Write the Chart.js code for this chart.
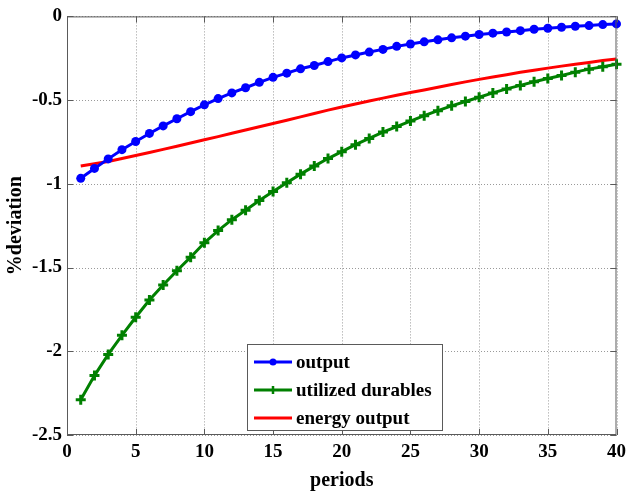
<!DOCTYPE html>
<html>
<head>
<meta charset="utf-8">
<script src="https://cdn.jsdelivr.net/npm/chart.js@4"></script>
<style>
  html, body { margin: 0; padding: 0; background: #fff; }
  #wrap { width: 632px; height: 495px; position: relative; }
</style>
</head>
<body>
<div id="wrap"><canvas id="c" width="632" height="495"></canvas></div>
<script>
// Impulse responses, % deviation from steady state, periods 1..40
const periods = Array.from({ length: 40 }, (_, i) => i + 1);

const outputDev = [
  -0.967, -0.908, -0.851, -0.796, -0.747, -0.699, -0.654, -0.611, -0.569, -0.528,
  -0.491, -0.457, -0.426, -0.394, -0.364, -0.339, -0.313, -0.293, -0.270, -0.248,
  -0.230, -0.213, -0.197, -0.179, -0.165, -0.152, -0.140, -0.128, -0.118, -0.108,
  -0.100, -0.093, -0.085, -0.077, -0.071, -0.065, -0.059, -0.055, -0.049, -0.045
];

const durablesDev = [
  -2.289, -2.145, -2.019, -1.905, -1.797, -1.694, -1.604, -1.519, -1.438, -1.352,
  -1.279, -1.214, -1.158, -1.099, -1.046, -0.993, -0.942, -0.894, -0.849, -0.808,
  -0.766, -0.729, -0.691, -0.658, -0.625, -0.593, -0.563, -0.534, -0.508, -0.483,
  -0.457, -0.433, -0.412, -0.390, -0.371, -0.353, -0.333, -0.315, -0.301, -0.286
];

const energyDev = [
  -0.894, -0.880, -0.866, -0.849, -0.831, -0.813, -0.794, -0.775, -0.756, -0.737,
  -0.718, -0.698, -0.678, -0.659, -0.640, -0.620, -0.600, -0.580, -0.560, -0.541,
  -0.523, -0.505, -0.488, -0.471, -0.455, -0.439, -0.423, -0.407, -0.391, -0.376,
  -0.362, -0.348, -0.334, -0.321, -0.309, -0.297, -0.286, -0.275, -0.264, -0.254
];

const seriesNames = ['output', 'utilized durables', 'energy output'];
const xTickValues = [0, 5, 10, 15, 20, 25, 30, 35, 40];
const yTickValues = [0, -0.5, -1, -1.5, -2, -2.5];
const yTickLabels = ['0', '-0.5', '-1', '-1.5', '-2', '-2.5'];

const FONT = '"Liberation Serif", "Times New Roman", serif';

function pts(ys) { return periods.map((p, i) => ({ x: p, y: ys[i] })); }

// Dotted grid behind the data, at every tick position
const dottedGrid = {
  id: 'dottedGrid',
  beforeDatasetsDraw(chart) {
    const { ctx, chartArea: a, scales } = chart;
    ctx.save();
    ctx.strokeStyle = '#9a9a9a';
    ctx.lineWidth = 1;
    ctx.setLineDash([1, 2]);
    ctx.beginPath();
    xTickValues.forEach(v => {
      const x = Math.round(scales.x.getPixelForValue(v)) + 0.5;
      ctx.moveTo(x, a.top); ctx.lineTo(x, a.bottom);
    });
    yTickValues.forEach(v => {
      const y = Math.round(scales.y.getPixelForValue(v)) + 0.5;
      ctx.moveTo(a.left, y); ctx.lineTo(a.right, y);
    });
    ctx.stroke();
    ctx.restore();
  }
};

// Box around the axes with short inward tick marks on every side
const axesBox = {
  id: 'axesBox',
  afterDatasetsDraw(chart) {
    const { ctx, chartArea: a, scales } = chart;
    ctx.save();
    ctx.strokeStyle = '#5a5a5a';
    ctx.lineWidth = 1;
    ctx.strokeRect(a.left + 0.5, a.top + 0.5, a.right - a.left - 1, a.bottom - a.top - 1);
    const len = 6;
    ctx.beginPath();
    xTickValues.forEach(v => {
      const x = Math.round(scales.x.getPixelForValue(v)) + 0.5;
      ctx.moveTo(x, a.bottom); ctx.lineTo(x, a.bottom - len);
      ctx.moveTo(x, a.top); ctx.lineTo(x, a.top + len);
    });
    yTickValues.forEach(v => {
      const y = Math.round(scales.y.getPixelForValue(v)) + 0.5;
      ctx.moveTo(a.left, y); ctx.lineTo(a.left + len, y);
      ctx.moveTo(a.right, y); ctx.lineTo(a.right - len, y);
    });
    ctx.stroke();
    ctx.restore();
  }
};

// Legend box drawn inside the plot area
const boxLegend = {
  id: 'boxLegend',
  afterDraw(chart) {
    const { ctx } = chart;
    const left = 247, top = 344, w = 195, h = 86;
    ctx.save();
    ctx.fillStyle = '#fff';
    ctx.fillRect(left, top, w, h);
    ctx.strokeStyle = '#5a5a5a';
    ctx.lineWidth = 1;
    ctx.strokeRect(left + 0.5, top + 0.5, w, h);
    ctx.font = 'bold 19px ' + FONT;
    ctx.textBaseline = 'middle';
    chart.data.datasets.forEach((ds, i) => {
      const y = top + 18 + i * 28;
      ctx.strokeStyle = ds.borderColor;
      ctx.lineWidth = 3;
      ctx.beginPath();
      ctx.moveTo(254, y); ctx.lineTo(292, y);
      ctx.stroke();
      if (ds.pointStyle === 'circle' && ds.pointRadius > 0) {
        ctx.fillStyle = ds.borderColor;
        ctx.beginPath(); ctx.arc(273, y, 3.5, 0, Math.PI * 2); ctx.fill();
      } else if (ds.pointStyle === 'cross' && ds.pointRadius > 0) {
        ctx.lineWidth = 2.5;
        ctx.beginPath();
        ctx.moveTo(273, y - 4); ctx.lineTo(273, y + 4);
        ctx.stroke();
      }
      ctx.fillStyle = '#000';
      ctx.fillText(ds.label, 296, y + 1);
    });
    ctx.restore();
  }
};

new Chart(document.getElementById('c'), {
  type: 'line',
  data: {
    datasets: [
      {
        label: seriesNames[0], data: pts(outputDev),
        borderColor: '#0000ff', backgroundColor: '#0000ff',
        borderWidth: 3, pointStyle: 'circle', pointRadius: 4.5,
        pointBorderWidth: 0, clip: false
      },
      {
        label: seriesNames[1], data: pts(durablesDev),
        borderColor: '#008000', backgroundColor: '#008000',
        borderWidth: 3, pointStyle: 'cross', pointRadius: 5,
        pointBorderWidth: 3, clip: false
      },
      {
        label: seriesNames[2], data: pts(energyDev),
        borderColor: '#ff0000', backgroundColor: '#ff0000',
        borderWidth: 3, pointRadius: 0, pointStyle: 'line', clip: false
      }
    ]
  },
  options: {
    responsive: false,
    animation: false,
    events: [],
    layout: { padding: { top: 12, right: 10, left: 0, bottom: 0 } },
    plugins: { legend: { display: false }, tooltip: { enabled: false } },
    scales: {
      x: {
        type: 'linear', min: 0, max: 40,
        afterBuildTicks(s) { s.ticks = xTickValues.map(v => ({ value: v })); },
        afterFit(s) { s.height = 60; },
        grid: { display: false, drawTicks: false },
        border: { display: false },
        ticks: { color: '#000', padding: 6, font: { family: FONT, size: 19, weight: 'bold' } },
        title: { display: true, text: 'periods', color: '#000', padding: { top: 4, bottom: 2 },
                 font: { family: FONT, size: 20, weight: 'bold' } }
      },
      y: {
        type: 'linear', min: -2.5, max: 0,
        afterBuildTicks(s) { s.ticks = yTickValues.map(v => ({ value: v })); },
        afterFit(s) { s.width = 67; },
        grid: { display: false, drawTicks: false },
        border: { display: false },
        ticks: {
          color: '#000', padding: 5,
          font: { family: FONT, size: 19, weight: 'bold' },
          callback(v) { const i = yTickValues.indexOf(v); return i >= 0 ? yTickLabels[i] : ''; }
        },
        title: { display: true, text: '%deviation', color: '#000', padding: { top: 4, bottom: 0 },
                 font: { family: FONT, size: 20, weight: 'bold' } }
      }
    }
  },
  plugins: [dottedGrid, axesBox, boxLegend]
});
</script>
</body>
</html>
